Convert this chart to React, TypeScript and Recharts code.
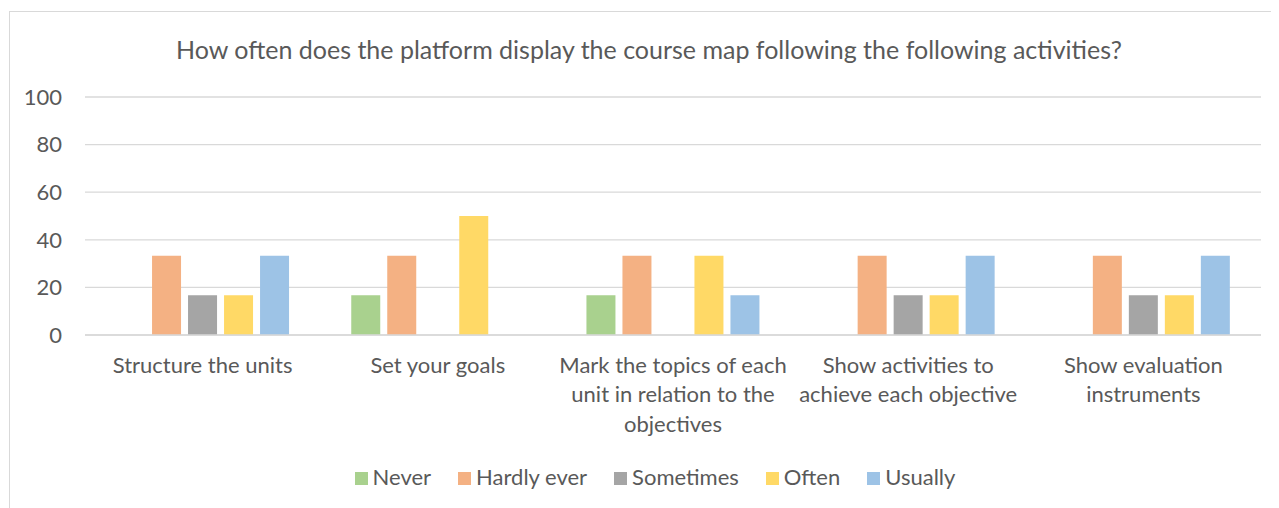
import { BarChart, Bar, XAxis, YAxis, CartesianGrid, Legend } from 'recharts';

const categories = [
  'Structure the units',
  'Set your goals',
  'Mark the topics of each unit in relation to the objectives',
  'Show activities to achieve each objective',
  'Show evaluation instruments',
];

const never = [0, 16.67, 16.67, 0, 0];
const hardlyEver = [33.33, 33.33, 33.33, 33.33, 33.33];
const sometimes = [16.67, 0, 0, 16.67, 16.67];
const often = [16.67, 50, 33.33, 16.67, 16.67];
const usually = [33.33, 0, 16.67, 33.33, 33.33];

const yTicks = [0, 20, 40, 60, 80, 100];

const series = [
  { key: 'never', name: 'Never', color: '#A9D18E' },
  { key: 'hardlyEver', name: 'Hardly ever', color: '#F4B183' },
  { key: 'sometimes', name: 'Sometimes', color: '#A5A5A5' },
  { key: 'often', name: 'Often', color: '#FFD966' },
  { key: 'usually', name: 'Usually', color: '#9DC3E6' },
];

const data = categories.map((name, i) => ({
  name,
  never: never[i],
  hardlyEver: hardlyEver[i],
  sometimes: sometimes[i],
  often: often[i],
  usually: usually[i],
}));

const FONT = 'Lato, "Noto Sans", sans-serif';
const TEXT = '#595959';

let ctx: CanvasRenderingContext2D | null = null;

// simple word wrap measured with canvas, so lines break like the original
function wrapWords(text: string, maxWidth: number) {
  if (!ctx) {
    ctx = document.createElement('canvas').getContext('2d');
  }
  if (!ctx) return [text];
  ctx.font = `22px ${FONT}`;
  const words = text.split(' ');
  const lines: string[] = [];
  let cur = '';
  words.forEach((w) => {
    const next = cur ? cur + ' ' + w : w;
    if (cur && ctx!.measureText(next).width > maxWidth) {
      lines.push(cur);
      cur = w;
    } else {
      cur = next;
    }
  });
  if (cur) lines.push(cur);
  return lines;
}

function CategoryTick(props: any) {
  const { x, y, payload } = props;
  const lines = wrapWords(String(payload.value), 240);
  return (
    <text x={x} y={y + 14} textAnchor="middle" fill={TEXT} fontSize={22} fontFamily={FONT}>
      {lines.map((l, i) => (
        <tspan key={i} x={x} dy={i === 0 ? '0.71em' : 29.5}>
          {l}
        </tspan>
      ))}
    </text>
  );
}

function LegendContent() {
  return (
    <ul
      style={{
        margin: 0,
        padding: 0,
        paddingLeft: 12,
        textAlign: 'center',
        fontFamily: FONT,
        fontSize: 22,
        color: TEXT,
      }}
    >
      {series.map((item, i) => (
        <li
          key={item.key}
          style={{ display: 'inline-block', marginRight: i === series.length - 1 ? 0 : 27 }}
        >
          <span
            style={{
              display: 'inline-block',
              width: 13,
              height: 13,
              background: item.color,
              marginRight: 5,
            }}
          />
          {item.name}
        </li>
      ))}
    </ul>
  );
}

export default function App() {
  return (
    <div
      style={{
        position: 'relative',
        marginLeft: 1,
        marginTop: 3,
        width: 1278,
        height: 496,
        border: '1px solid #d9d9d9',
        background: '#fff',
      }}
    >
      <div
        style={{
          position: 'absolute',
          top: 23,
          left: 0,
          width: '100%',
          textAlign: 'center',
          fontFamily: FONT,
          fontSize: 25,
          lineHeight: '29px',
          color: TEXT,
        }}
      >
        How often does the platform display the course map following the following activities?
      </div>
      <BarChart
        width={1278}
        height={496}
        data={data}
        margin={{ top: 85, right: 27, bottom: 0, left: 0 }}
        barCategoryGap="13.2%"
        barGap={7}
      >
        <CartesianGrid vertical={false} stroke="#d9d9d9" strokeWidth={1.3} />
        <XAxis
          dataKey="name"
          height={173}
          axisLine={{ stroke: '#d9d9d9', strokeWidth: 1.3 }}
          tickLine={false}
          tick={<CategoryTick />}
          interval={0}
        />
        <YAxis
          width={75}
          domain={[0, 100]}
          ticks={yTicks}
          axisLine={false}
          tickLine={false}
          tickSize={0}
          tickMargin={23}
          tick={{ fill: TEXT, fontSize: 22, fontFamily: FONT }}
        />
        <Legend
          verticalAlign="middle"
          align="center"
          wrapperStyle={{ top: 451, left: 0, width: 1278 }}
          content={<LegendContent />}
        />
        {series.map((s) => (
          <Bar key={s.key} dataKey={s.key} name={s.name} fill={s.color} isAnimationActive={false} />
        ))}
      </BarChart>
    </div>
  );
}
